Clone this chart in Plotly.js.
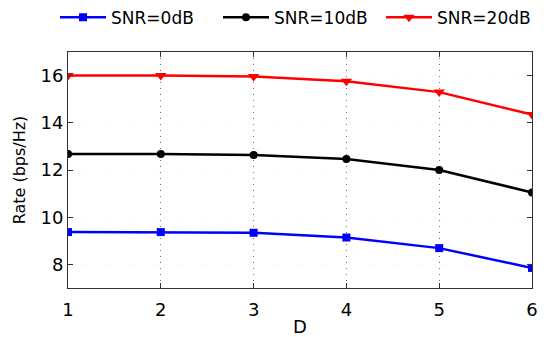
<!DOCTYPE html>
<html><head><meta charset="utf-8">
<script src="https://cdn.plot.ly/plotly-3.0.1.min.js"></script>
<style>html,body{margin:0;padding:0;background:#fff}#c{width:549px;height:337px}</style>
</head><body><div id="c"></div>
<script>
const D = [1, 2, 3, 4, 5, 6];
const snr0 = [9.37, 9.37, 9.34, 9.14, 8.69, 7.85];
const snr10 = [12.68, 12.68, 12.64, 12.47, 12.0, 11.05];
const snr20 = [16.0, 16.0, 15.96, 15.76, 15.3, 14.35];
const names = ["SNR=0dB", "SNR=10dB", "SNR=20dB"];
const font = "DejaVu Sans, Liberation Sans, sans-serif";
const traces = [
  {x: D, y: snr0, name: names[0], mode: "lines+markers", line: {color: "#0000ff", width: 2.5}, marker: {symbol: "square", size: 8, color: "#0000ff"}},
  {x: D, y: snr10, name: names[1], mode: "lines+markers", line: {color: "#000000", width: 2.5}, marker: {symbol: "circle", size: 8, color: "#000000"}},
  {x: D, y: snr20, name: names[2], mode: "lines+markers", line: {color: "#ff0000", width: 2.5}, marker: {symbol: "triangle-down", size: 10, color: "#ff0000"}}
];
const axBase = {showline: true, linecolor: "#333", linewidth: 1, mirror: "ticks", ticks: "inside", ticklen: 5, tickcolor: "#333", zeroline: false, tickfont: {family: font, size: 18, color: "#000"}};
const layout = {
  width: 549, height: 337,
  margin: {l: 68, r: 17, t: 52, b: 49, autoexpand: false},
  paper_bgcolor: "#fff", plot_bgcolor: "#fff",
  font: {family: font, color: "#000"},
  showlegend: true,
  legend: {orientation: "h", x: -0.028, xanchor: "left", y: 1.145, yanchor: "middle", font: {family: font, size: 17}, itemwidth: 46, entrywidth: 102, tracegroupgap: 0, bgcolor: "rgba(0,0,0,0)"},
  xaxis: Object.assign({}, axBase, {range: [1, 6], tickvals: D, ticklabelstandoff: 5, showgrid: true, gridcolor: "#777", griddash: "1px,5px", gridwidth: 1, title: {text: "D", font: {family: font, size: 18}, standoff: 7}}),
  yaxis: Object.assign({}, axBase, {range: [7, 17], tickvals: [8, 10, 12, 14, 16], showgrid: true, gridcolor: "#eee", griddash: "1px,5px", title: {text: "Rate (bps/Hz)", font: {family: font, size: 16}, standoff: 10}})
};
Plotly.newPlot("c", traces, layout, {displayModeBar: false, staticPlot: true});
</script></body></html>
